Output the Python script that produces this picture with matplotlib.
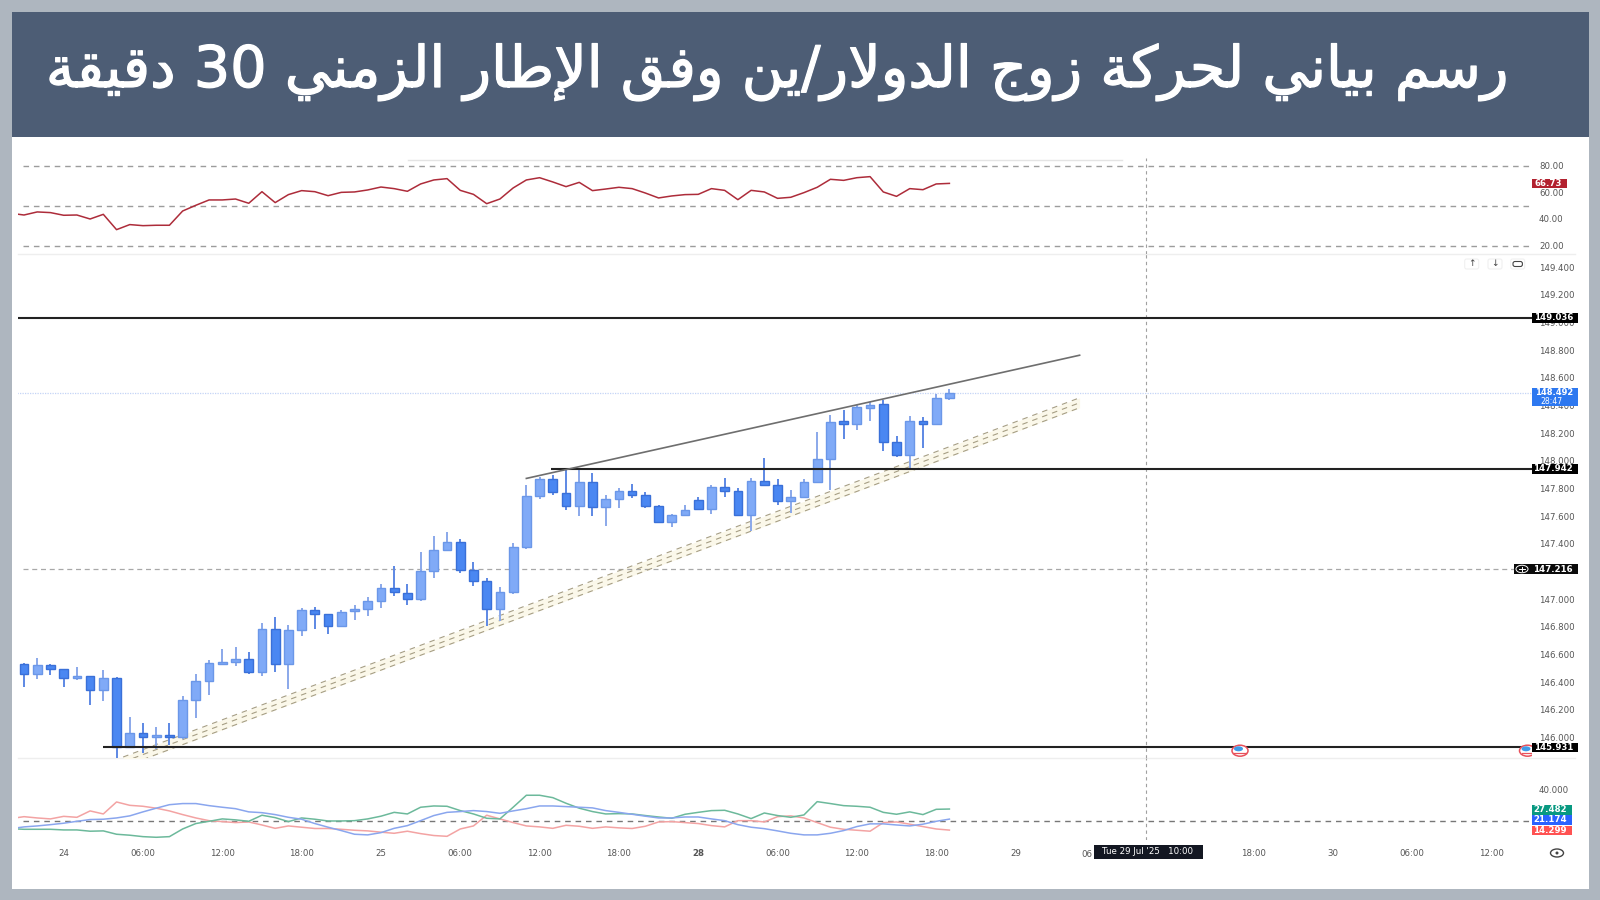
import numpy as np
import matplotlib
matplotlib.use("Agg")
import matplotlib.pyplot as plt
import matplotlib.patheffects as pe
from matplotlib.patches import Rectangle, Ellipse, FancyBboxPatch

title = "رسم بياني لحركة زوج الدولار/ين وفق الإطار الزمني 30 دقيقة"

opens = [146.530, 146.458, 146.526, 146.497, 146.427, 146.446, 146.340, 146.427, 145.927, 146.033,
         146.001, 146.014, 146.006, 146.267, 146.405, 146.533, 146.542, 146.567, 146.475, 146.786,
         146.533, 146.774, 146.919, 146.895, 146.808, 146.912, 146.931, 146.987, 147.081, 147.047,
         147.001, 147.206, 147.354, 147.412, 147.209, 147.129, 146.926, 147.049, 147.375, 147.745,
         147.866, 147.769, 147.670, 147.849, 147.663, 147.723, 147.779, 147.752, 147.670, 147.557,
         147.612, 147.716, 147.653, 147.808, 147.779, 147.607, 147.856, 147.827, 147.709, 147.735,
         147.849, 148.016, 148.286, 148.269, 148.383, 148.409, 148.136, 148.045, 148.291, 148.269,
         148.455]
highs = [146.538, 146.576, 146.530, 146.497, 146.511, 146.446, 146.484, 146.434, 146.149, 146.103,
         146.072, 146.103, 146.296, 146.455, 146.559, 146.639, 146.651, 146.615, 146.825, 146.868,
         146.810, 146.938, 146.943, 146.895, 146.922, 146.960, 147.016, 147.108, 147.236, 147.110,
         147.339, 147.455, 147.489, 147.433, 147.269, 147.155, 147.090, 147.407, 147.825, 147.883,
         147.895, 147.938, 147.931, 147.914, 147.755, 147.803, 147.832, 147.774, 147.678, 147.617,
         147.682, 147.735, 147.822, 147.875, 147.805, 147.873, 148.020, 147.866, 147.786, 147.871,
         148.206, 148.334, 148.371, 148.407, 148.426, 148.438, 148.180, 148.327, 148.317, 148.486,
         148.518]
lows = [146.361, 146.419, 146.448, 146.361, 146.414, 146.236, 146.262, 145.849, 145.927, 145.890,
        145.915, 145.946, 145.987, 146.139, 146.308, 146.526, 146.518, 146.458, 146.446, 146.475,
        146.352, 146.736, 146.781, 146.745, 146.796, 146.847, 146.876, 146.934, 147.023, 146.955,
        146.986, 147.156, 147.351, 147.189, 147.098, 146.808, 146.844, 147.037, 147.359, 147.726,
        147.755, 147.646, 147.603, 147.600, 147.528, 147.656, 147.728, 147.661, 147.547, 147.525,
        147.610, 147.648, 147.617, 147.740, 147.598, 147.496, 147.815, 147.682, 147.622, 147.731,
        147.839, 147.786, 148.156, 148.223, 148.288, 148.074, 148.025, 147.943, 148.093, 148.262,
        148.443]
closes = [146.458, 146.526, 146.497, 146.429, 146.446, 146.340, 146.427, 145.927, 146.035, 146.001,
          146.014, 146.006, 146.267, 146.405, 146.538, 146.542, 146.567, 146.475, 146.784, 146.533,
          146.774, 146.919, 146.895, 146.808, 146.909, 146.931, 146.987, 147.083, 147.050, 147.001,
          147.206, 147.354, 147.412, 147.211, 147.131, 146.926, 147.052, 147.375, 147.745, 147.866,
          147.772, 147.670, 147.849, 147.665, 147.726, 147.779, 147.755, 147.670, 147.557, 147.612,
          147.646, 147.653, 147.808, 147.779, 147.607, 147.856, 147.827, 147.709, 147.738, 147.849,
          148.016, 148.284, 148.269, 148.387, 148.407, 148.136, 148.045, 148.288, 148.269, 148.458,
          148.489]

# these three start one hour before the first candle
rsi = [44.3, 43.0, 45.3, 44.8, 42.8, 43.0, 40.0, 43.5, 32.0, 35.8,
       35.0, 35.3, 35.3, 46.0, 50.3, 54.3, 54.3, 55.0, 51.8, 60.5,
       52.3, 58.3, 61.3, 60.5, 57.5, 60.0, 60.3, 61.8, 64.0, 62.8,
       60.8, 66.3, 69.3, 70.3, 61.5, 58.5, 51.5, 55.0, 63.3, 69.3,
       71.0, 67.8, 64.3, 67.5, 61.3, 62.5, 63.8, 62.8, 59.5, 55.8,
       57.3, 58.3, 58.5, 62.8, 61.5, 54.5, 61.5, 60.3, 55.5, 56.3,
       59.8, 63.8, 69.8, 69.0, 71.0, 71.8, 60.3, 57.0, 62.8, 62.0,
       66.3, 66.73]
di_red = [21.5, 22.7, 21.9, 21.3, 22.9, 22.3, 26.3, 24.4, 31.9, 29.8,
          29.2, 28.0, 26.3, 24.0, 21.9, 20.2, 19.6, 19.0, 19.4, 17.5,
          15.4, 16.9, 16.1, 15.3, 15.3, 14.8, 14.2, 13.8, 13.0, 12.3,
          13.6, 12.1, 10.9, 10.4, 15.0, 16.9, 23.6, 21.3, 19.0, 16.9,
          16.3, 15.4, 17.3, 16.7, 15.4, 16.3, 15.7, 15.3, 16.7, 19.4,
          19.6, 19.0, 18.4, 17.1, 16.3, 20.2, 20.2, 19.4, 22.7, 23.2,
          21.9, 19.0, 16.1, 14.8, 14.2, 13.6, 19.0, 19.4, 18.0, 16.5,
          15.0, 14.3]
di_blue = [15.2, 16.3, 16.9, 17.7, 18.6, 19.8, 20.9, 21.1, 21.9, 23.2,
           25.7, 28.0, 30.2, 30.9, 30.9, 29.6, 28.6, 27.7, 25.7, 25.2,
           24.0, 22.3, 21.1, 18.4, 16.1, 14.0, 11.7, 11.3, 12.7, 15.4,
           17.1, 20.2, 23.4, 25.4, 25.9, 26.5, 25.9, 24.8, 26.3, 27.7,
           29.4, 29.4, 29.0, 28.6, 28.2, 26.5, 25.4, 24.2, 23.0, 21.9,
           21.9, 22.5, 22.5, 21.3, 20.2, 17.7, 16.1, 15.2, 13.8, 12.3,
           11.3, 11.3, 12.3, 14.0, 16.5, 18.2, 18.2, 17.5, 16.9, 18.0,
           19.8, 21.17]
adx_green = [15.2, 14.8, 14.8, 14.8, 14.4, 14.4, 13.6, 13.8, 11.7, 11.1,
             10.2, 9.8, 10.2, 15.0, 18.4, 19.8, 21.3, 20.7, 19.8, 23.6,
             22.1, 19.6, 21.9, 21.1, 20.0, 20.0, 20.2, 21.3, 23.0, 25.4,
             24.4, 28.6, 29.4, 29.2, 26.5, 24.4, 21.7, 21.3, 28.6, 36.1,
             36.1, 34.6, 31.1, 28.0, 25.9, 24.4, 24.6, 24.4, 23.4, 22.5,
             21.7, 24.2, 25.4, 26.5, 26.7, 24.4, 21.5, 25.0, 23.4, 22.3,
             23.8, 32.1, 30.9, 29.6, 29.2, 28.6, 25.4, 24.2, 25.7, 24.0,
             27.3, 27.48]

price_levels = [149.036, 147.942, 145.931]
level_starts = [-0.5, 39.85, 5.95]
pending_level = 147.216
last_price = 148.492
rising_line_x = [38, 79.85]
rising_line_y = [147.873, 148.764]
channel_x = [7.5, 79.85]
channel_upper = [145.858, 148.456]
channel_mid = [145.822, 148.420]
channel_lower = [145.786, 148.384]

# 147.200 sits fully behind the 147.216 badge in the picture
price_ticks = [146.0, 146.2, 146.4, 146.6, 146.8, 147.0, 147.4, 147.6, 147.8, 148.0,
               148.2, 148.4, 148.6, 148.8, 149.0, 149.2, 149.4]
rsi_ticks = [20, 40, 60, 80]
# the 12:00 of the 29th is hidden by the crosshair date and only "06" of the 06:00 shows
time_ticks = [3, 9, 15, 21, 27, 33, 39, 45, 51, 57, 63, 69, 75, 93, 99, 105, 111]
time_labels = ["24", "06:00", "12:00", "18:00", "25", "06:00", "12:00", "18:00", "28", "06:00",
               "12:00", "18:00", "29", "18:00", "30", "06:00", "12:00"]
crosshair = 84.9

# matplotlib does no arabic shaping, so pick the presentation forms by hand
# letter: isolated, final, initial, medial
FORMS = {
    "ا": "\ufe8d\ufe8e", "إ": "\ufe87\ufe88", "ة": "\ufe93\ufe94", "د": "\ufea9\ufeaa",
    "ر": "\ufead\ufeae", "ز": "\ufeaf\ufeb0", "و": "\ufeed\ufeee",
    "\ufefb": "\ufefb\ufefc", "\ufef9": "\ufef9\ufefa",
    "ب": "\ufe8f\ufe90\ufe91\ufe92", "ج": "\ufe9d\ufe9e\ufe9f\ufea0", "ح": "\ufea1\ufea2\ufea3\ufea4",
    "س": "\ufeb1\ufeb2\ufeb3\ufeb4", "ط": "\ufec1\ufec2\ufec3\ufec4", "ف": "\ufed1\ufed2\ufed3\ufed4",
    "ق": "\ufed5\ufed6\ufed7\ufed8", "ك": "\ufed9\ufeda\ufedb\ufedc", "ل": "\ufedd\ufede\ufedf\ufee0",
    "م": "\ufee1\ufee2\ufee3\ufee4", "ن": "\ufee5\ufee6\ufee7\ufee8", "ي": "\ufef1\ufef2\ufef3\ufef4",
}


def shape_word(word):
    if word.isdigit():
        return word
    word = word.replace("لا", "\ufefb").replace("لإ", "\ufef9")
    out = []
    for i, ch in enumerate(word):
        forms = FORMS.get(ch)
        if forms is None:
            out.append(ch)
            continue
        prev_joins = i > 0 and len(FORMS.get(word[i - 1], "")) == 4
        next_joins = len(forms) == 4 and i + 1 < len(word) and word[i + 1] in FORMS
        if prev_joins and next_joins:
            out.append(forms[3])
        elif prev_joins:
            out.append(forms[1])
        elif next_joins:
            out.append(forms[2])
        else:
            out.append(forms[0])
    return "".join(reversed(out))


def visual_rtl(text):
    return " ".join(shape_word(w) for w in reversed(text.split(" ")))


W, H = 1600, 900
X0, X1 = 18, 1532


def panel(y0, y1):
    a = fig.add_axes([X0 / W, 1 - y1 / H, (X1 - X0) / W, (y1 - y0) / H])
    a.patch.set_alpha(0)
    for s in a.spines.values():
        s.set_visible(False)
    a.set_xlim((X0 - 24.0) / 13.22, (X1 - 24.0) / 13.22)
    a.set_xticks([])
    a.yaxis.tick_right()
    a.tick_params(axis="y", length=0, pad=5, labelsize=6.2, labelcolor="#555555")
    return a


fig = plt.figure(figsize=(16, 9), dpi=100, facecolor="#aeb6bf")

bg = fig.add_axes([0, 0, 1, 1], zorder=0)
bg.set_xlim(0, W)
bg.set_ylim(H, 0)
bg.axis("off")
bg.add_patch(Rectangle((12, 12), 1577, 877, fc="white", ec="none"))
bg.add_patch(Rectangle((12, 12), 1577, 125, fc="#4d5d75", ec="none"))
title_text = bg.text(778, 87, visual_rtl(title), color="white", fontsize=41.2, ha="center", va="baseline",
                     family="DejaVu Sans")
title_text.set_path_effects([pe.withStroke(linewidth=0.9, foreground="white")])
bg.plot([408, 1122], [160, 160], color="#e4e4e4", lw=1)
bg.plot([18, 1575], [254.3, 254.3], color="#eeeeee", lw=1)
bg.plot([18, 1575], [757.7, 757.7], color="#eeeeee", lw=1)

# rsi pane
ax_rsi = panel(138, 254.3)
ax_rsi.set_ylim(13.5, 100.8)
for v in [80, 50, 20]:
    ax_rsi.hlines(v, -0.08, 114.1, color="#9c9c9c", lw=1, linestyles=(0, (4, 3.5)))
ax_rsi.plot(np.arange(-1, 71), rsi, color="#ad2c3a", lw=1.1)
ax_rsi.set_yticks(rsi_ticks)
ax_rsi.set_yticklabels(["%.2f" % t for t in rsi_ticks])
ax_rsi.vlines(crosshair, 13.5, 86, color="#a0a0a0", lw=0.8, linestyles=(0, (3, 3)))

# candles
ax = panel(254.3, 757.7)
ax.set_ylim(145.853, 149.494)
ax.fill_between(channel_x, channel_lower, channel_upper, color="#fbf8ea", lw=0, zorder=1)
for edge in [channel_upper, channel_mid, channel_lower]:
    ax.plot(channel_x, edge, color="#a69e84", lw=0.8, linestyle=(0, (5, 4.5)), zorder=2)

idx = np.arange(len(opens))
o = np.array(opens)
c = np.array(closes)
up = c >= o
ax.vlines(idx[up], np.array(lows)[up], np.array(highs)[up], color="#8aa8ea", lw=1.4, zorder=3)
ax.vlines(idx[~up], np.array(lows)[~up], np.array(highs)[~up], color="#5d88e4", lw=1.4, zorder=3)
ax.bar(idx[up], (c - o)[up], bottom=o[up], width=0.66, color="#80aaf7", edgecolor="#6b97e8",
       linewidth=1, zorder=4)
ax.bar(idx[~up], (o - c)[~up], bottom=c[~up], width=0.66, color="#4a87f2", edgecolor="#3a70d8",
       linewidth=1, zorder=4)

for lev, st in zip(price_levels, level_starts):
    ax.hlines(lev, st, 114.1, color="#222222", lw=1.5, zorder=5)
ax.hlines(pending_level, -0.08, 114.1, color="#a8a8a8", lw=0.9, linestyles=(0, (4, 3)), zorder=1)
ax.hlines(last_price, -0.5, 114.1, color="#c4d4f6", lw=0.9, linestyles=(0, (1, 1)), zorder=1)
ax.plot(rising_line_x, rising_line_y, color="#6e6e6e", lw=1.2, zorder=5)
ax.vlines(crosshair, 145.853, 149.494, color="#a0a0a0", lw=0.8, linestyles=(0, (3, 3)), zorder=1)
ax.set_yticks(price_ticks)
ax.set_yticklabels(["%.3f" % t for t in price_ticks])

# dmi pane
ax_dmi = panel(757.7, 840)
ax_dmi.set_ylim(8.1, 59.6)
ax_dmi.hlines(20, -0.08, 114.1, color="#777777", lw=1, linestyles=(0, (4, 3.5)))
x_dmi = np.arange(-1, 71)
ax_dmi.plot(x_dmi, di_red, color="#f3a3a3", lw=1.1)
ax_dmi.plot(x_dmi, adx_green, color="#6cb99b", lw=1.1)
ax_dmi.plot(x_dmi, di_blue, color="#8aa6ee", lw=1.1)
ax_dmi.vlines(crosshair, 8.1, 59.6, color="#a0a0a0", lw=0.8, linestyles=(0, (3, 3)))
ax_dmi.set_yticks([40])
ax_dmi.set_yticklabels(["40.000"])
ax_dmi.set_xticks(time_ticks)
ax_dmi.set_xticklabels(time_labels)
ax_dmi.tick_params(axis="x", length=0, pad=6.3, labelsize=6.2, labelcolor="#555555")
ax_dmi.get_xticklabels()[8].set_fontweight("bold")

# badges and icons on top, in pixels
fg = fig.add_axes([0, 0, 1, 1], zorder=10)
fg.set_xlim(0, W)
fg.set_ylim(H, 0)
fg.axis("off")


def badge(x0, x1, y0, y1, color, label):
    fg.add_patch(Rectangle((x0, y0), x1 - x0, y1 - y0, fc=color, ec="none"))
    fg.text(x1 - 5, (y0 + y1) / 2, label, color="white", fontsize=6.2, weight="bold", ha="right", va="center")


badge(1532, 1567, 179.3, 188.3, "#b2212f", "66.73")
badge(1532, 1578, 313, 322.7, "#000000", "149.036")
badge(1532, 1578, 464, 473.5, "#000000", "147.942")
badge(1514, 1578, 564, 574, "#0b0b0b", "147.216")
badge(1532, 1578, 742.7, 751.7, "#000000", "145.931")
badge(1532, 1572, 805, 814.8, "#089981", "27.482")
badge(1532, 1572, 815, 824.5, "#2962ff", "21.174")
badge(1532, 1572, 826, 835.3, "#ff5252", "14.299")

fg.add_patch(Rectangle((1532, 388.3), 46, 17.4, fc="#2d78f0", ec="none"))
fg.text(1573, 392.6, "148.492", color="white", fontsize=6, weight="bold", ha="right", va="center")
fg.text(1563, 401.4, "28:47", color="white", fontsize=5.6, ha="right", va="center")

fg.add_patch(Ellipse((1522, 569), 12, 7.5, fc="#0b0b0b", ec="white", lw=0.7))
fg.plot([1519, 1525], [569, 569], color="white", lw=0.7)
fg.plot([1522, 1522], [567, 571], color="white", lw=0.7)

# the peeking "06" of the hidden 06:00 tick
fg.text(1087, 854.2, "06", color="#555555", fontsize=6.2, ha="center", va="center")
fg.add_patch(Rectangle((1093.6, 845), 108.9, 14, fc="#131722", ec="none"))
fg.text(1148, 852, "Tue 29 Jul '25   10:00", color="white", fontsize=6.2, ha="center", va="center")

for cx in [1240, 1527.5]:
    clip = Rectangle((cx - 10, 738), min(20, 1532 - cx + 10), 24, transform=fg.transData)
    e = Ellipse((cx, 750.7), 16, 11, fc="white", ec="#e8505b", lw=1.1)
    fg.add_patch(e)
    e.set_clip_path(clip)
    cap = Ellipse((cx - 1.5, 748.8), 9, 5, fc="#3f9be8", ec="none")
    fg.add_patch(cap)
    cap.set_clip_path(clip)
    st = fg.plot([cx - 6, cx + 6], [753, 753], color="#e8505b", lw=0.9)[0]
    st.set_clip_path(clip)

for cx in [1471.7, 1495, 1517.7]:
    fg.add_patch(FancyBboxPatch((cx - 7, 259), 14, 10, boxstyle="round,pad=0,rounding_size=2",
                                fc="white", ec="#f0f0f0", lw=0.8))
fg.text(1471.7, 264, "↑", color="#444444", fontsize=6.5, ha="center", va="center")
fg.text(1495, 264, "↓", color="#444444", fontsize=6.5, ha="center", va="center")
fg.add_patch(FancyBboxPatch((1513, 261.5), 9.4, 5, boxstyle="round,pad=0,rounding_size=2",
                            fc="none", ec="#444444", lw=0.8))

fg.add_patch(Ellipse((1557, 853), 13, 8, fc="white", ec="#444444", lw=1))
fg.add_patch(Ellipse((1557, 853), 3, 3, fc="#444444", ec="none"))

fig.savefig("out.png", dpi=100, facecolor=fig.get_facecolor())
